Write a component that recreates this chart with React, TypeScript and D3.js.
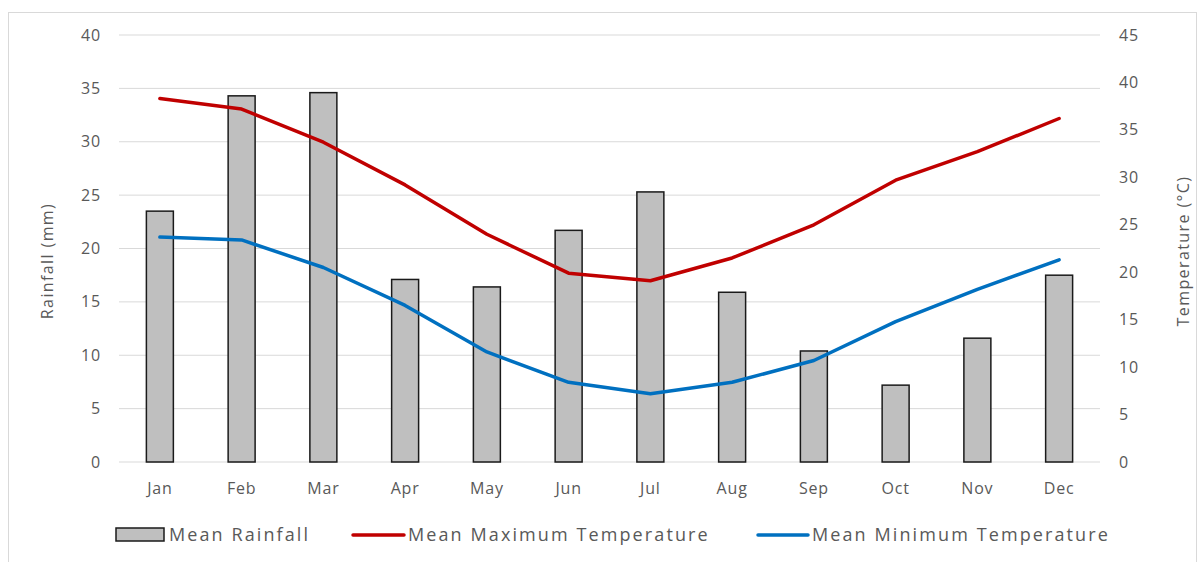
import React from "react";
import * as d3 from "d3";

const months = ["Jan", "Feb", "Mar", "Apr", "May", "Jun", "Jul", "Aug", "Sep", "Oct", "Nov", "Dec"];
const rainfall = [23.5, 34.3, 34.6, 17.1, 16.4, 21.7, 25.3, 15.9, 10.4, 7.2, 11.6, 17.5];
const maxTemp = [38.3, 37.2, 33.7, 29.2, 24.0, 19.9, 19.1, 21.5, 25.0, 29.7, 32.7, 36.2];
const minTemp = [23.7, 23.4, 20.5, 16.5, 11.6, 8.4, 7.2, 8.4, 10.7, 14.8, 18.2, 21.3];
const rainTicks = [0, 5, 10, 15, 20, 25, 30, 35, 40];
const tempTicks = [0, 5, 10, 15, 20, 25, 30, 35, 40, 45];

const W = 1204;
const H = 562;
const left = 119;
const right = 1100;
const top = 35;
const bottom = 462;
const FONT = "'Open Sans', 'DejaVu Sans', sans-serif";
const TEXT = "#595959";

export default function App() {
  const x = d3.scaleBand<string>().domain(months).range([left, right]).paddingInner(0.67).paddingOuter(0.335);
  const xc = d3.scalePoint<string>().domain(months).range([left, right]).padding(0.5);
  const yRain = d3.scaleLinear().domain([0, 40]).range([bottom, top]);
  const yTemp = d3.scaleLinear().domain([0, 45]).range([bottom, top]);
  const line = (vals: number[]) =>
    d3.line<number>().x((_, i) => xc(months[i])!).y((v) => yTemp(v))(vals)!;

  return (
    <svg width={W} height={H} style={{ position: "absolute", left: 0, top: 0, background: "#fff" }}>
      <rect x={8.5} y={12.5} width={1188} height={560} fill="#fff" stroke="#d9d9d9" />
      {rainTicks.map((t) => (
        <line key={t} x1={left} x2={right} y1={yRain(t)} y2={yRain(t)} stroke="#d9d9d9" strokeWidth={1} />
      ))}
      <g fontFamily={FONT} fontSize={16} fill={TEXT} letterSpacing={0.8}>
        {rainTicks.map((t) => (
          <text key={t} x={101} y={yRain(t)} dy="0.35em" textAnchor="end">
            {t}
          </text>
        ))}
        {tempTicks.map((t) => (
          <text key={t} x={1119} y={yTemp(t)} dy="0.35em" textAnchor="start">
            {t}
          </text>
        ))}
        {months.map((m) => (
          <text key={m} x={xc(m)} y={488} dy="0.35em" textAnchor="middle">
            {m}
          </text>
        ))}
      </g>
      <g fontFamily={FONT} fontSize={16} fill={TEXT} letterSpacing={1.4}>
        <text transform={`translate(47,261) rotate(-90)`} textAnchor="middle" dy="0.35em">
          Rainfall (mm)
        </text>
        <text transform={`translate(1183,251) rotate(-90)`} textAnchor="middle" dy="0.35em">
          Temperature (°C)
        </text>
      </g>
      {months.map((m, i) => (
        <rect
          key={m}
          x={x(m)}
          y={yRain(rainfall[i])}
          width={x.bandwidth()}
          height={bottom - yRain(rainfall[i])}
          fill="#bfbfbf"
          stroke="#1a1a1a"
          strokeWidth={1.5}
        />
      ))}
      <path d={line(maxTemp)} fill="none" stroke="#c00000" strokeWidth={3.5} strokeLinejoin="round" strokeLinecap="round" />
      <path d={line(minTemp)} fill="none" stroke="#0070c0" strokeWidth={3.5} strokeLinejoin="round" strokeLinecap="round" />
      <g fontFamily={FONT} fontSize={18} fill={TEXT} letterSpacing={2.1}>
        <rect x={116} y={528} width={48} height={13} fill="#bfbfbf" stroke="#1a1a1a" strokeWidth={1.5} />
        <text x={169} y={535} dy="0.35em">Mean Rainfall</text>
        <line x1={353} x2={404} y1={535} y2={535} stroke="#c00000" strokeWidth={3.5} strokeLinecap="round" />
        <text x={408} y={535} dy="0.35em">Mean Maximum Temperature</text>
        <line x1={758} x2={808} y1={535} y2={535} stroke="#0070c0" strokeWidth={3.5} strokeLinecap="round" />
        <text x={812} y={535} dy="0.35em">Mean Minimum Temperature</text>
      </g>
    </svg>
  );
}
